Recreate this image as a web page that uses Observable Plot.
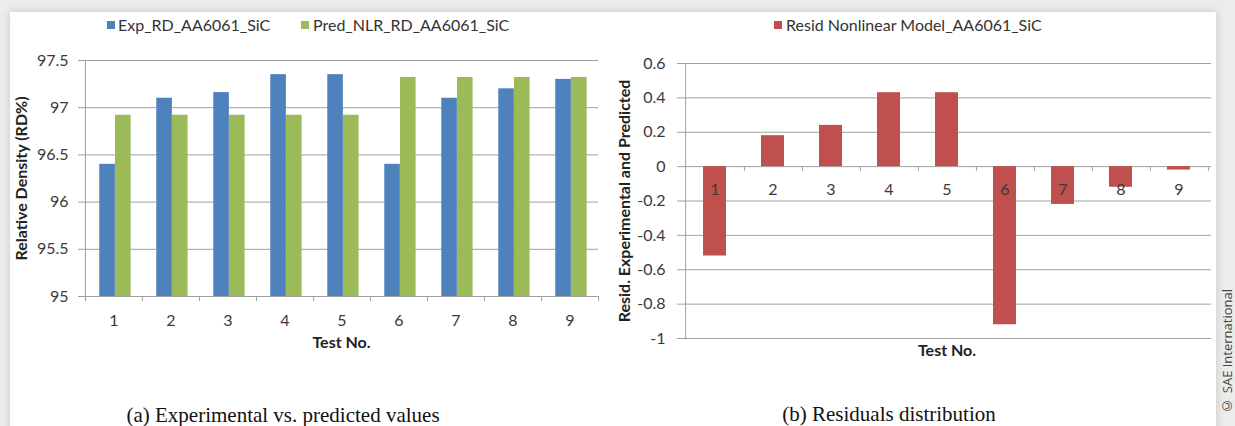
<!DOCTYPE html>
<html>
<head>
<meta charset="utf-8">
<script src="https://cdn.jsdelivr.net/npm/d3@7"></script>
<script src="https://cdn.jsdelivr.net/npm/@observablehq/plot@0.6"></script>
<style>
  html, body { margin: 0; padding: 0; }
  body { width: 1235px; height: 426px; overflow: hidden; position: relative; background: #ececec; font-family: Lato, sans-serif; }
  #card { position: absolute; left: 10px; top: 12px; width: 1206px; height: 440px; background: #fff; box-shadow: 0 0 9px rgba(0,0,0,0.16); }
  .panel { position: absolute; top: 40px; }
  .legend { position: absolute; top: 16px; height: 18px; font: 16px Lato, sans-serif; color: #333; white-space: nowrap; line-height: 18px; }
  .legend .sw { position: absolute; top: 5px; width: 8px; height: 8px; }
  .legend .lab { position: absolute; top: 0; }
  .caption { position: absolute; font: 21px "Liberation Serif", serif; color: #111; white-space: nowrap; transform: translateX(-50%); }
  #copy { position: absolute; left: 1220px; top: 289px; writing-mode: vertical-rl; transform: rotate(180deg); font: 13px/15px "Open Sans", sans-serif; color: #444; white-space: nowrap; }
</style>
</head>
<body>
<div id="card"></div>
<div id="legendA" class="legend" style="left:0"></div>
<div id="legendB" class="legend" style="left:0"></div>
<div id="chartA" class="panel" style="left:0"></div>
<div id="chartB" class="panel" style="left:620px"></div>
<div class="caption" style="left:283px; top:403px">(a) Experimental vs. predicted values</div>
<div class="caption" style="left:889px; top:402px">(b) Residuals distribution</div>
<div id="copy">© SAE International</div>
<script>
// Test runs and measured / predicted relative density of AA6061-SiC
const tests = [1, 2, 3, 4, 5, 6, 7, 8, 9];
const expRD = [96.4, 97.1, 97.16, 97.35, 97.35, 96.4, 97.1, 97.2, 97.3];
const predRD = [96.92, 96.92, 96.92, 96.92, 96.92, 97.32, 97.32, 97.32, 97.32];
// Residuals of the nonlinear model (experimental minus predicted)
const residual = [-0.52, 0.18, 0.24, 0.43, 0.43, -0.92, -0.22, -0.12, -0.02];

const rdTicks = [95, 95.5, 96, 96.5, 97, 97.5];
const residTicks = [-1, -0.8, -0.6, -0.4, -0.2, 0, 0.2, 0.4, 0.6];

const seriesNames = ["Exp_RD_AA6061_SiC", "Pred_NLR_RD_AA6061_SiC"];
const residName = "Resid Nonlinear Model_AA6061_SiC";
const xTitle = "Test No.";
const yTitleA = "Relative Density (RD%)";
const yTitleB = "Resid. Experimental and Predicted";

const COLORS = {exp: "#4F81BD", pred: "#9BBB59", resid: "#C0504D"};
const GRID = "#a0a0a0";
const INK = "#3a3a3a";
const TITLE_INK = "#222";

const rows = tests.map((t, i) => ({test: t, exp: expRD[i], pred: predRD[i], resid: residual[i]}));

const baseStyle = {fontFamily: "Lato, sans-serif", fontSize: "16px", color: INK, background: "transparent", overflow: "visible"};

// ---- (a) grouped bars: experimental vs predicted ----
const A = {width: 620, height: 330, marginLeft: 84, marginRight: 22, marginTop: 20, marginBottom: 74};
const stepA = (A.width - A.marginLeft - A.marginRight) / tests.length;
const innerHA = A.height - A.marginTop - A.marginBottom;
const yMinA = d3.min(rdTicks);

const chartA = Plot.plot({
  ...A,
  style: baseStyle,
  x: {type: "band", domain: tests, padding: 0, tickSize: 0, tickPadding: 18, label: null},
  y: {domain: d3.extent(rdTicks), ticks: rdTicks, tickSize: 0, tickPadding: 16, tickFormat: d => String(d), label: null},
  marks: [
    Plot.ruleY(rdTicks, {stroke: GRID, insetLeft: -6}),
    Plot.ruleX(tests.slice(0, 1), {dx: -stepA / 2, stroke: GRID, insetBottom: -5}),
    Plot.ruleX(tests, {dx: -stepA / 2, stroke: GRID, insetTop: innerHA, insetBottom: -5}),
    Plot.ruleX(tests.slice(-1), {dx: stepA / 2, stroke: GRID, insetTop: innerHA, insetBottom: -5}),
    Plot.barY(rows, {x: "test", y1: yMinA, y2: "exp", fill: COLORS.exp, insetLeft: stepA * 0.25, insetRight: stepA * 0.475}),
    Plot.barY(rows, {x: "test", y1: yMinA, y2: "pred", fill: COLORS.pred, insetLeft: stepA * 0.525, insetRight: stepA * 0.2}),
    Plot.text([xTitle], {frameAnchor: "bottom", dy: 51, fontWeight: "bold", fill: TITLE_INK}),
    Plot.text([yTitleA], {frameAnchor: "left", textAnchor: "middle", rotate: -90, dx: -63, fontWeight: "bold", fill: TITLE_INK})
  ]
});
document.getElementById("chartA").append(chartA);

// ---- (b) residual bars ----
const B = {width: 596, height: 330, marginLeft: 62, marginRight: 5, marginTop: 23, marginBottom: 32};
const stepB = (B.width - B.marginLeft - B.marginRight) / tests.length;

const chartB = Plot.plot({
  ...B,
  style: baseStyle,
  x: {type: "band", domain: tests, paddingInner: 0.6, paddingOuter: 0.3, axis: null},
  y: {domain: d3.extent(residTicks), ticks: residTicks, tickSize: 0, tickPadding: 17, tickFormat: d => String(d), label: null},
  marks: [
    Plot.ruleY(residTicks, {stroke: GRID, insetLeft: -5}),
    Plot.ruleX(tests.slice(0, 1), {dx: -stepB / 2, stroke: GRID}),
    Plot.ruleX(tests, {y1: 0, y2: 0, dx: stepB / 2, stroke: GRID, insetBottom: -5}),
    Plot.barY(rows, {x: "test", y: "resid", fill: COLORS.resid}),
    Plot.text(rows, {x: "test", y: 0, dy: 23, text: d => String(d.test), fill: INK}),
    Plot.text([xTitle], {frameAnchor: "bottom", dy: 17, fontWeight: "bold", fill: TITLE_INK}),
    Plot.text([yTitleB], {frameAnchor: "left", textAnchor: "middle", rotate: -90, dx: -58, fontWeight: "bold", fill: TITLE_INK})
  ]
});
document.getElementById("chartB").append(chartB);

// ---- legends ----
function legend(el, items) {
  for (const it of items) {
    const sw = document.createElement("span");
    sw.className = "sw";
    sw.style.left = it.swatchX + "px";
    sw.style.background = it.color;
    const lab = document.createElement("span");
    lab.className = "lab";
    lab.style.left = it.textX + "px";
    lab.textContent = it.label;
    el.append(sw, lab);
  }
}
legend(document.getElementById("legendA"), [
  {label: seriesNames[0], color: COLORS.exp, swatchX: 107, textX: 118},
  {label: seriesNames[1], color: COLORS.pred, swatchX: 301, textX: 313}
]);
legend(document.getElementById("legendB"), [
  {label: residName, color: COLORS.resid, swatchX: 774, textX: 786}
]);
</script>
</body>
</html>
